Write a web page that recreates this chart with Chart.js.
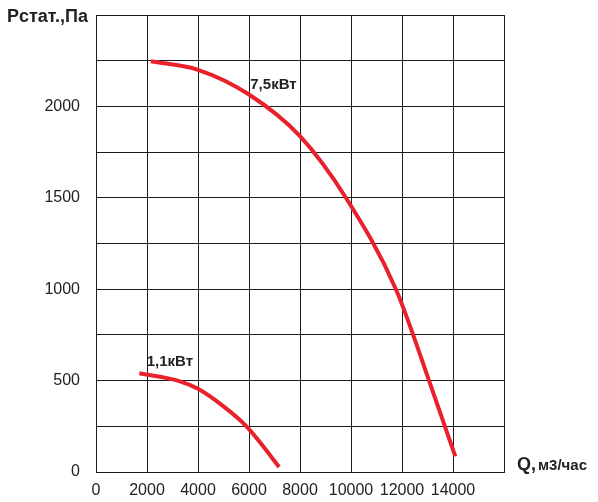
<!DOCTYPE html>
<html>
<head>
<meta charset="utf-8">
<script src="https://cdn.jsdelivr.net/npm/chart.js@4/dist/chart.umd.min.js"></script>
<style>
  html, body { margin: 0; padding: 0; background: #fff; }
  #wrap { width: 598px; height: 502px; }
</style>
</head>
<body>
<div id="wrap"><canvas id="c" width="598" height="502"></canvas></div>
<script>
// Fan curves: static pressure (Pa) vs air flow (m3/h)
const flow75 = [2150, 4000, 6000, 8000, 9800, 11760, 13060, 14090];
const pres75 = [2247, 2200, 2065, 1837, 1500, 1000, 500, 85];

const flow11 = [1700, 3200, 4000, 5000, 5900, 6500, 7180];
const pres11 = [540, 500, 455, 359, 250, 150, 27];

const xTickLabels = ['0', '2000', '4000', '6000', '8000', '10000', '12000', '14000'];
const yTickLabels = ['0', '500', '1000', '1500', '2000'];

const seriesNames = ['7,5кВт', '1,1кВт'];

const toPoints = (xs, ys) => xs.map((x, i) => ({ x: x, y: ys[i] }));

const gridColor = '#1c1c1c';
const curveColor = '#e8212b';
const textColor = '#222222';
const fontFamily = '"Liberation Sans", Arial, sans-serif';

// Curve labels and axis titles
const annotations = {
  id: 'annotations',
  afterDatasetsDraw(chart) {
    const ctx = chart.ctx;
    const xs = chart.scales.x, ys = chart.scales.y;
    ctx.save();
    ctx.fillStyle = textColor;
    ctx.textBaseline = 'middle';
    ctx.textAlign = 'left';
    ctx.font = 'bold 15px ' + fontFamily;
    ctx.fillText(seriesNames[0], xs.getPixelForValue(6050), ys.getPixelForValue(2120));
    ctx.fillText(seriesNames[1], xs.getPixelForValue(1990), ys.getPixelForValue(605));

    // y axis title
    ctx.font = 'bold 18px ' + fontFamily;
    ctx.fillText('Pстат.,Па', 7, 17);

    // x axis title
    ctx.font = 'bold 18px ' + fontFamily;
    ctx.fillText('Q,', 517, 465);
    const w = ctx.measureText('Q, ').width;
    ctx.font = 'bold 15px ' + fontFamily;
    ctx.fillText('м3/час', 517 + w - 3, 466);
    ctx.restore();
  }
};

const curveStyle = {
  borderColor: curveColor,
  borderWidth: 4,
  pointRadius: 0,
  cubicInterpolationMode: 'monotone',
  fill: false
};

// keep the plot frame fixed: no extra room for overflowing tick labels
function noOverflow(scale) {
  scale.paddingTop = 0;
  scale.paddingBottom = 0;
  scale.paddingLeft = 0;
  scale.paddingRight = 0;
}

new Chart(document.getElementById('c'), {
  type: 'line',
  data: {
    datasets: [
      Object.assign({ label: seriesNames[0], data: toPoints(flow75, pres75) }, curveStyle),
      Object.assign({ label: seriesNames[1], data: toPoints(flow11, pres11) }, curveStyle)
    ]
  },
  options: {
    responsive: false,
    animation: false,
    events: [],
    layout: { padding: { top: 15, right: 94, bottom: 0, left: 0 } },
    plugins: {
      legend: { display: false },
      tooltip: { enabled: false },
      title: { display: false }
    },
    scales: {
      x: {
        type: 'linear',
        min: 0,
        max: 16000,
        afterFit(scale) { scale.height = 30; noOverflow(scale); },
        ticks: {
          stepSize: 2000,
          padding: 9,
          maxRotation: 0,
          autoSkip: false,
          color: textColor,
          font: { family: fontFamily, size: 16 },
          callback(v) {
            const i = Math.round(v / 2000);
            return i < xTickLabels.length ? xTickLabels[i] : '';
          }
        },
        grid: { color: gridColor, lineWidth: 1, drawTicks: false },
        border: { display: true, color: gridColor, width: 1 }
      },
      y: {
        type: 'linear',
        min: 0,
        max: 2500,
        afterFit(scale) { scale.width = 96; noOverflow(scale); },
        ticks: {
          stepSize: 250,
          padding: 16,
          autoSkip: false,
          color: textColor,
          font: { family: fontFamily, size: 16 },
          callback(v) {
            if (v % 500 !== 0) return '';
            const i = v / 500;
            return i < yTickLabels.length ? yTickLabels[i] : '';
          }
        },
        grid: { color: gridColor, lineWidth: 1, drawTicks: false },
        border: { display: true, color: gridColor, width: 1 }
      }
    }
  },
  plugins: [annotations]
});
</script>
</body>
</html>
